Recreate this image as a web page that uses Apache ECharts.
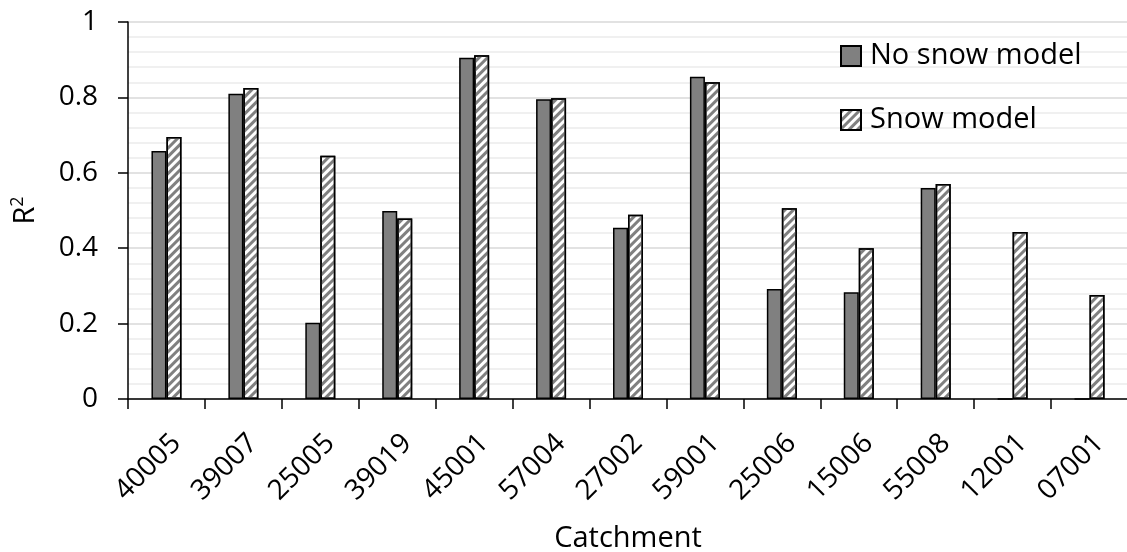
<!DOCTYPE html>
<html>
<head>
<meta charset="utf-8">
<script src="https://cdn.jsdelivr.net/npm/echarts@6/dist/echarts.min.js"></script>
<style>
html,body{margin:0;padding:0;background:#fff;}
#chart{width:1127px;height:552px;}
</style>
</head>
<body>
<div id="chart"></div>
<script>
const categories = ['40005','39007','25005','39019','45001','57004','27002','59001','25006','15006','55008','12001','07001'];
const noSnow = [0.658,0.810,0.202,0.499,0.905,0.795,0.454,0.855,0.292,0.283,0.560,0,0];
const snow   = [0.695,0.825,0.645,0.479,0.912,0.798,0.489,0.840,0.506,0.400,0.570,0.443,0.276];
const seriesNames = ['No snow model','Snow model'];
const yTicks = [0,0.2,0.4,0.6,0.8,1];

const FONT = '"Open Sans", "Noto Sans", sans-serif';
const chart = echarts.init(document.getElementById('chart'), null, {renderer:'canvas'});
chart.setOption({
  animation:false,
  backgroundColor:'#fff',
  textStyle:{fontFamily:FONT,color:'#000'},
  grid:{left:128,right:-1,top:22,bottom:153,containLabel:false,outerBoundsMode:'none'},
  legend:{
    orient:'vertical', left:840, top:41, padding:0,
    icon:'rect',
    itemWidth:20, itemHeight:20, itemGap:34,
    textStyle:{fontFamily:FONT,fontSize:29,color:'#000',lineHeight:30,padding:[0,0,0,4]},
    data:seriesNames
  },
  xAxis:{
    type:'category', data:categories,
    name:'Catchment', nameLocation:'middle', nameGap:125,
    nameTextStyle:{fontFamily:FONT,fontSize:29,color:'#000'},
    axisLine:{lineStyle:{color:'#000',width:1.5}},
    axisTick:{show:true,length:10,inside:false,lineStyle:{color:'#000',width:1.5}},
    axisLabel:{rotate:45,fontFamily:FONT,fontSize:28,color:'#000',margin:30,interval:0,verticalAlign:'top'},
    splitLine:{show:false}
  },
  yAxis:{
    type:'value', min:yTicks[0], max:yTicks[yTicks.length-1], interval:0.2,
    name:'{r|R}{s|2}', nameLocation:'middle', nameGap:85, nameRotate:90,
    nameTextStyle:{fontFamily:FONT,color:'#000',
      rich:{r:{fontFamily:FONT,fontSize:29,color:'#000',lineHeight:34},
            s:{fontFamily:FONT,fontSize:18,color:'#000',verticalAlign:'top',lineHeight:22}}},
    axisLine:{show:true,lineStyle:{color:'#000',width:1.5}},
    axisTick:{show:true,length:10,lineStyle:{color:'#000',width:1.5}},
    axisLabel:{fontFamily:FONT,fontSize:28,color:'#000',margin:30,
      formatter:function(v){return String(Math.round(v*10)/10);}},
    splitLine:{show:true,lineStyle:{color:'#d9d9d9',width:1.5}},
    minorTick:{show:false,splitNumber:5},
    minorSplitLine:{show:true,lineStyle:{color:'#ececec',width:1.5}}
  },
  series:[
    {name:seriesNames[0],type:'bar',data:noSnow,barWidth:15,barGap:'0%',
     itemStyle:{color:'#808080',borderColor:'#000',borderWidth:1.5}},
    {name:seriesNames[1],type:'bar',data:snow,barWidth:15,barGap:'0%',
     itemStyle:{color:'#ffffff',borderColor:'#000',borderWidth:1.5,
       decal:{symbol:'rect',symbolSize:1,dashArrayX:[1,0],dashArrayY:[3,3],rotation:-Math.PI/4,color:'#808080'}}}
  ]
});
</script>
</body>
</html>
